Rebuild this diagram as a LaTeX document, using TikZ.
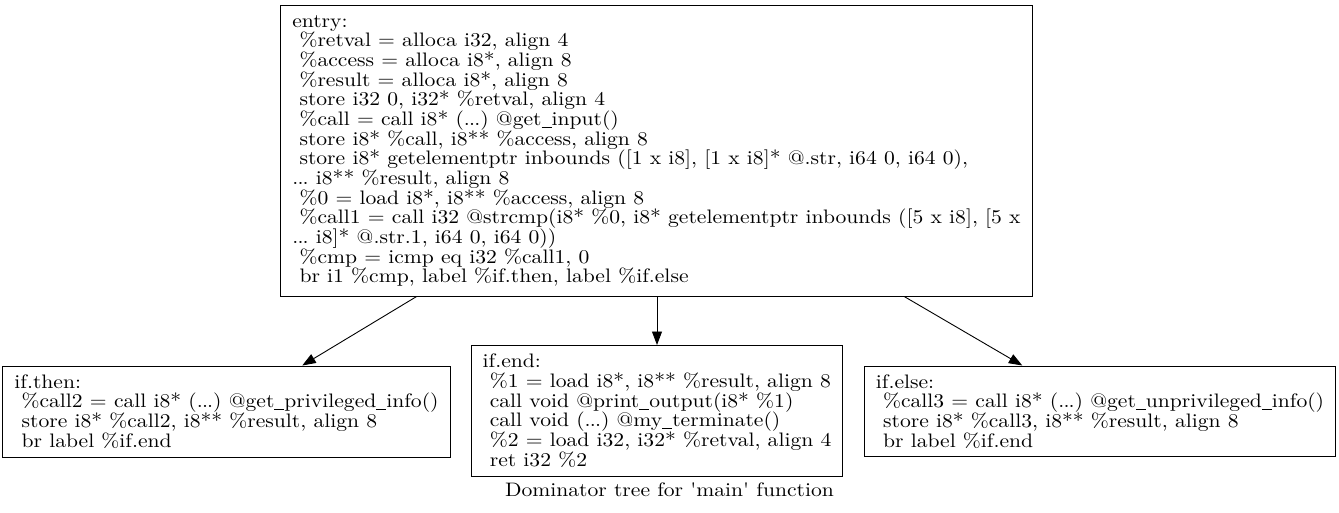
\documentclass[tikz,border=0pt]{standalone}
\usepackage{fontspec}
\newfontfamily\irfont{lmroman10-regular.otf}[FakeStretch=1.108]
\usetikzlibrary{arrows.meta}
\newcommand{\lsp}{\hspace*{\fontdimen2\font}}
\newcommand{\usc}{\rule[-2.2pt]{10pt}{0.9pt}}
\newcommand{\dts}{.\kern-0.8pt.\kern-0.8pt.}

\begin{document}
\begin{tikzpicture}[x=1pt,y=-1pt,
  irfontsize/.style={font=\irfont\frenchspacing\fontsize{19.5}{19.67}\selectfont},
  block/.style={draw,black,line width=1pt,rectangle,align=left,
    inner xsep=11.5pt,inner ysep=0pt,irfontsize},
  domedge/.style={-{Triangle[length=13.5pt,width=10pt]},line width=0.9pt,black}]
\useasboundingbox (0,0) rectangle (1339,513);

% The entry block dominates the three others.
\node[block,minimum height=290pt] (entry) at (656.5,151) {entry:\\
\lsp\%retval = alloca i32, align 4\\
\lsp\%access = alloca i8*, align 8\\
\lsp\%result = alloca i8*, align 8\\
\lsp store i32 0, i32* \%retval, align 4\\
\lsp\%call = call i8* (\dts) @get\usc input()\\
\lsp store i8* \%call, i8** \%access, align 8\\
\lsp store i8* getelementptr inbounds ([1 x i8], [1 x i8]* @.str, i64 0, i64 0),\\
\dts\ i8** \%result, align 8\\
\lsp\%0 = load i8*, i8** \%access, align 8\\
\lsp\%call1 = call i32 @strcmp(i8* \%0, i8* getelementptr inbounds ([5 x i8], [5 x\\
\dts\ i8]* @.str.1, i64 0, i64 0))\\
\lsp\%cmp = icmp eq i32 \%call1, 0\\
\lsp br i1 \%cmp, label \%if.then, label \%if.else};

\node[block,minimum height=91pt] (ifthen) at (226.5,411.5) {if.then:\\
\lsp\%call2 = call i8* (\dts) @get\usc privileged\usc info()\\
\lsp store i8* \%call2, i8** \%result, align 8\\
\lsp br label \%if.end};

\node[block,minimum height=130.5pt] (ifend) at (657,410.75) {if.end:\\
\lsp\%1 = load i8*, i8** \%result, align 8\\
\lsp call void @print\usc output(i8* \%1)\\
\lsp call void (\dts) @my\usc terminate()\\
\lsp\%2 = load i32, i32* \%retval, align 4\\
\lsp ret i32 \%2};

\node[block,minimum height=90.5pt] (ifelse) at (1100,411.25) {if.else:\\
\lsp\%call3 = call i8* (\dts) @get\usc unprivileged\usc info()\\
\lsp store i8* \%call3, i8** \%result, align 8\\
\lsp br label \%if.end};

\draw[domedge] (entry) -- (ifthen);
\draw[domedge] (entry.south -| ifend) -- (ifend);
\draw[domedge] (entry) -- (ifelse);

\node[irfontsize,anchor=base] (caption) at (669.5,496) {Dominator tree for 'main' function};
\end{tikzpicture}
\end{document}
